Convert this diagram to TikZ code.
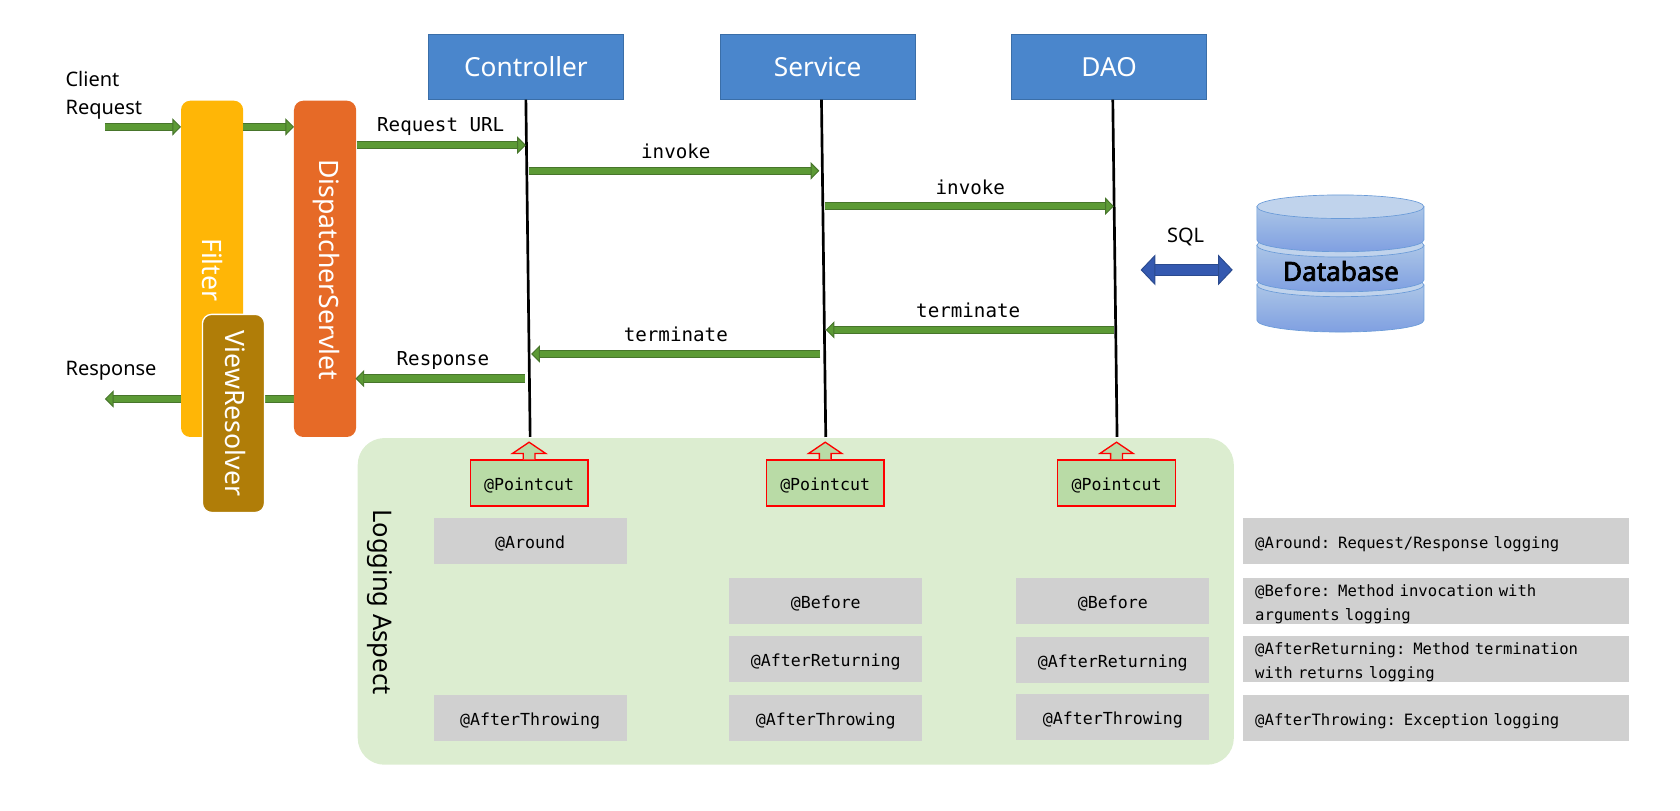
\documentclass[tikz,border=0pt]{standalone}
\usepackage{fontspec}
\setmainfont{Noto Sans}
\setmonofont{DejaVu Sans Mono}
\newfontfamily\dbfont[FakeBold=3]{Noto Sans}
\usetikzlibrary{arrows.meta,calc}
\definecolor{gfill}{HTML}{5C9A35}
\definecolor{gdark}{HTML}{47752B}
\definecolor{bluebox}{HTML}{4A86CC}
\definecolor{blueline}{HTML}{3A6EA8}
\definecolor{filterc}{HTML}{FFB606}
\definecolor{dispc}{HTML}{E66A27}
\definecolor{viewc}{HTML}{B07D08}
\definecolor{aspectc}{HTML}{DCEDD0}
\definecolor{cutc}{HTML}{B9DBA6}
\definecolor{greyc}{HTML}{D0D0D0}
\definecolor{dbtop}{HTML}{C0D3EC}
\definecolor{dbside}{HTML}{8DB1DE}
\definecolor{dbline}{HTML}{6A9BD8}
\definecolor{sqlc}{HTML}{3459B0}
\definecolor{sqld}{HTML}{2A4A8E}
\newlength{\uu}\setlength{\uu}{0.8033pt}
\newcommand{\lowstrut}{\rule{0pt}{13.5pt}}
\tikzset{
 x=\uu,y=-\uu,
 tier/.style={draw=blueline,line width=0.6pt,fill=bluebox,text=white,font=\fontsize{19.7}{22}\selectfont,minimum width=182\uu,minimum height=61\uu,inner sep=0pt},
 vbar/.style={rounded corners=7pt,minimum width=58\uu,inner sep=0pt,outer sep=0pt},
 vtext/.style={text=white,font=\fontsize{20}{22}\selectfont,rotate=-90,inner sep=0pt},
 lifeline/.style={draw=black,line width=2pt},
 flow/.style={draw=gdark,line width=0.7pt,double=gfill,double distance=4.8pt,
   -{Triangle[length=6.5pt,width=13pt,fill=gfill,color=gdark,line width=0.7pt]}},
 flowlabel/.style={font=\ttfamily\fontsize{14.4}{17}\selectfont,inner sep=0pt},
 sans/.style={font=\fontsize{15}{21.7}\selectfont,inner sep=0pt,align=left},
 cut/.style={draw=red,line width=1pt,fill=cutc,font=\ttfamily\fontsize{12.45}{15}\selectfont,minimum width=110\uu,minimum height=43\uu,inner sep=0pt,text height=10.6pt,text depth=0pt},
 adv/.style={fill=greyc,font=\ttfamily\fontsize{12.45}{15}\selectfont,minimum width=180\uu,minimum height=43\uu,inner sep=0pt,text height=10.6pt,text depth=0pt},
 note/.style={fill=greyc,font=\ttfamily\fontsize{11.7}{18}\selectfont,minimum width=360\uu,minimum height=43\uu,inner sep=0pt,outer sep=0pt,text width=338\uu,align=left},
}
\newcommand{\dbdisk}[2]{%
 \path[draw=dbline,line width=0.5pt,top color=dbtop!60!dbside,bottom color=dbside!90!blue]
   (1173.5,#1) -- (1173.5,#2) arc[start angle=180,end angle=360,x radius=78,y radius=-11] -- (1329.5,#1) -- cycle;
 \path[draw=dbline,line width=0.5pt,fill=dbtop] (1251.5,#1) ellipse[x radius=78,y radius=11];
}
\begin{document}
\begin{tikzpicture}
\useasboundingbox (0,0) rectangle (1568.6,756.3);
\node[tier] (ctrl) at (491,62.5) {Controller};
\node[tier] (svc) at (763.5,62.5) {Service};
\node[tier] (dao) at (1035.5,62.5) {DAO};
\node[fill=aspectc,rounded corners=20pt,minimum width=818\uu,minimum height=305\uu,inner sep=0pt] (aspect) at (743,561.5) {};
\coordinate (cb) at (495,408);\coordinate (sb) at (771,408);\coordinate (db) at (1043,408);
\draw[lifeline] (491,93) coordinate (ct) -- (cb);
\draw[lifeline] (767,93) coordinate (st) -- (sb);
\draw[lifeline] (1039,93) coordinate (dt) -- (db);
\coordinate (d2) at (275,372.5);\coordinate (re1) at (98,372.5);
\draw[flow] (d2) -- (re1);
\node[vbar,fill=filterc,minimum height=314\uu] (filter) at (198,251) {};
\node[vbar,fill=dispc,minimum height=314\uu] (disp) at (303.5,251) {};
\node[vtext] (ft) at (198,252) {Filter};
\node[vtext] (dt2) at (304.5,252) {DispatcherServlet};
\coordinate (cl1) at (98,118.5);
\coordinate (f1) at (169,118.5);\coordinate (f2) at (227,118.5);\coordinate (d1) at (274.5,118.5);
\draw[flow] (cl1) -- (f1);
\draw[flow] (f2) -- (d1);
\node[vbar,fill=viewc,draw=white,line width=1pt,minimum height=185\uu] (view) at (218,386) {};
\node[vtext] (vt) at (220,386) {ViewResolver};
\node[sans,anchor=west] (client) at (61,89) {Client\\Request};
\node[sans,anchor=west] (resp) at (61,346.5) {Response};
\coordinate (a1) at (333,135.5);\coordinate (a2) at (491,135.5);
\coordinate (b1) at (494,159.5);\coordinate (b2) at (765,159.5);
\coordinate (c1) at (770,192.5);\coordinate (c2) at (1040,192.5);
\coordinate (e1) at (1040,308);\coordinate (e2) at (771,308);
\coordinate (g1) at (766,330.5);\coordinate (g2) at (496,330.5);
\coordinate (h1) at (490,353.5);\coordinate (h2) at (332,353.5);
\draw[flow] (a1) -- (a2);
\draw[flow] (b1) -- (b2);
\draw[flow] (c1) -- (c2);
\draw[flow] (e1) -- (e2);
\draw[flow] (g1) -- (g2);
\draw[flow] (h1) -- (h2);
\node[flowlabel] (l1) at (411.5,118) {Request URL};
\node[flowlabel] (l2) at (631,141) {invoke};
\node[flowlabel] (l3) at (906,175) {invoke};
\node[flowlabel] (l4) at (904,290) {terminate};
\node[flowlabel] (l5) at (631,312) {terminate};
\node[flowlabel] (l6) at (413.5,337) {Response};
\dbdisk{266}{299}
\dbdisk{229}{261.5}
\dbdisk{193}{224}
\node[font=\dbfont\fontsize{19.6}{22}\selectfont,inner sep=0pt] (dbn) at (1252,253) {Database};
\node[sans] (sql) at (1107,221) {SQL};
\coordinate (s1) at (1065,252);\coordinate (s2) at (1151,252);
\draw[draw=sqld,line width=0.7pt,double=sqlc,double distance=8pt,{Triangle[length=11pt,width=23pt,fill=sqlc,color=sqld,line width=0.7pt]}-{Triangle[length=11pt,width=23pt,fill=sqlc,color=sqld,line width=0.7pt]}] (s1) -- (s2);
\foreach \n/\x in {pa/494,pb/770.5,pc/1042.5}{
 \node[cut] (\n) at (\x,451) {@Pointcut};
 \draw[draw=red,line width=1pt,fill=cutc] ($(\n.north)+(-5.5,0)$) -- ++(0,-5.5) -- ++(-10,0) -- ($(\n.north)+(0,-16)$) -- ($(\n.north)+(15.5,-5.5)$) -- ++(-10,0) -- ($(\n.north)+(5.5,0)$);
}
\node[adv] (a1r) at (495,505.5) {@Around};
\node[adv] (a2r) at (771,561.5) {@Before};
\node[adv] (a3r) at (771,615.5) {@AfterReturning};
\node[adv] (a4r) at (771,670.5) {@AfterThrowing};
\node[adv] (a5r) at (495,670.5) {@AfterThrowing};
\node[adv] (a6r) at (1039,561.5) {@Before};
\node[adv] (a7r) at (1039,616.5) {@AfterReturning};
\node[adv] (a8r) at (1039,669.5) {@AfterThrowing};
\node[note] (n1) at (1341,505.5) {\lowstrut @Around: Request/Response logging};
\node[note] (n2) at (1341,561.5) {\lowstrut @Before: Method invocation with\\arguments logging};
\node[note] (n3) at (1341,615.5) {\lowstrut @AfterReturning: Method termination\\with returns logging};
\node[note] (n4) at (1341,670.5) {\lowstrut @AfterThrowing: Exception logging};
\node[font=\fontsize{19.2}{22}\selectfont,rotate=-90,inner sep=0pt] (la) at (355,562) {Logging Aspect};
\end{tikzpicture}
\end{document}
